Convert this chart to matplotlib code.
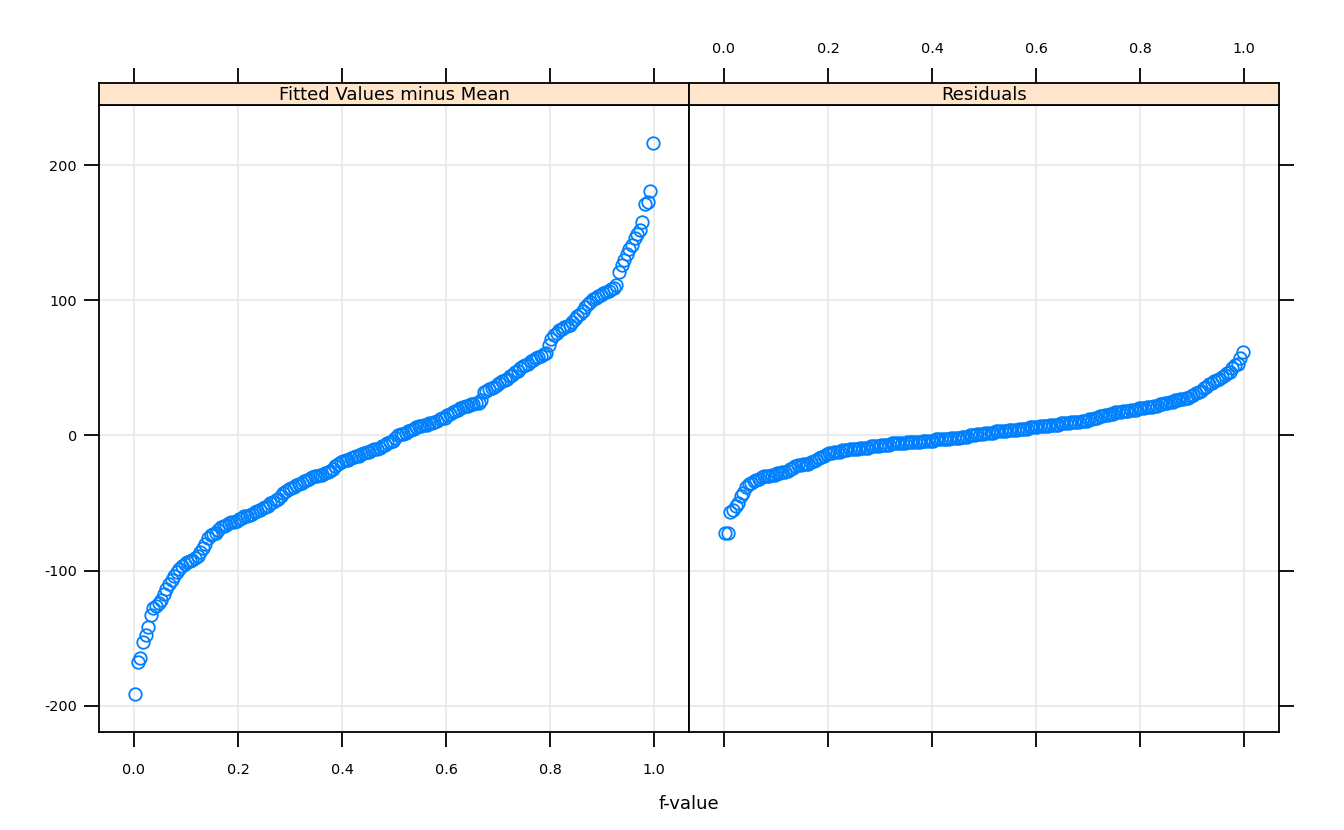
import numpy as np
import matplotlib
matplotlib.use("Agg")
import matplotlib.pyplot as plt

plt.rcParams["font.family"] = "DejaVu Sans"
plt.rcParams["axes.unicode_minus"] = False

# sorted values (n = 200, f-value = (i - 0.5) / n)
fitted = [
    -191, -168, -165, -153, -148, -142, -133, -128, -126, -124,
    -122, -117, -114, -110, -107, -104, -101, -99, -97, -95,
    -94, -93, -92, -91, -89, -86, -83, -80, -76, -74,
    -73, -72, -70, -68, -67, -66, -65, -64, -64, -63,
    -62, -61, -60, -60, -59, -58, -57, -56, -55, -54,
    -53, -52, -50, -49, -48, -47, -45, -43, -41, -40,
    -39, -38, -37, -36, -35, -34, -33, -32, -31, -30,
    -30, -29, -29, -28, -27, -26, -25, -23, -21, -20,
    -19, -18, -18, -17, -16, -15, -15, -14, -13, -12,
    -12, -11, -10, -10, -9, -8, -7, -6, -5, -4,
    -2, 0, 1, 1, 2, 3, 4, 5, 6, 7,
    7, 8, 8, 9, 9, 10, 11, 12, 13, 13,
    15, 16, 17, 18, 19, 20, 21, 22, 22, 23,
    23, 24, 24, 26, 32, 33, 34, 35, 36, 37,
    39, 40, 41, 42, 44, 45, 47, 48, 50, 51,
    52, 53, 55, 56, 57, 58, 59, 60, 61, 67,
    71, 74, 76, 78, 79, 80, 81, 82, 84, 86,
    88, 90, 92, 95, 97, 99, 101, 102, 103, 104,
    105, 106, 107, 108, 109, 111, 121, 126, 130, 134,
    138, 141, 146, 149, 152, 158, 171, 173, 181, 216,
]

residuals = [
    -72, -72, -57, -55, -52, -50, -45, -43, -38, -36,
    -35, -34, -33, -32, -31, -30, -30, -30, -29, -29,
    -28, -28, -27, -27, -26, -25, -24, -23, -22, -22,
    -21, -21, -21, -20, -19, -18, -17, -16, -15, -14,
    -13, -13, -12, -12, -12, -11, -11, -11, -10, -10,
    -10, -10, -9, -9, -9, -9, -8, -8, -8, -8,
    -7, -7, -7, -7, -6, -6, -6, -6, -6, -6,
    -5, -5, -5, -5, -5, -5, -4, -4, -4, -4,
    -4, -3, -3, -3, -3, -3, -3, -2, -2, -2,
    -2, -1, -1, -1, 0, 0, 0, 1, 1, 1,
    2, 2, 2, 2, 3, 3, 3, 3, 3, 4,
    4, 4, 4, 5, 5, 5, 5, 6, 6, 6,
    6, 7, 7, 7, 7, 8, 8, 8, 8, 9,
    9, 9, 9, 10, 10, 10, 10, 11, 11, 11,
    12, 12, 13, 13, 14, 14, 15, 15, 16, 16,
    17, 17, 17, 18, 18, 18, 19, 19, 19, 20,
    20, 20, 21, 21, 21, 22, 22, 23, 23, 24,
    24, 25, 25, 26, 26, 27, 27, 28, 28, 29,
    30, 31, 32, 33, 35, 36, 38, 39, 40, 41,
    42, 43, 45, 46, 47, 50, 52, 53, 57, 62,
]

panels = ["Fitted Values minus Mean", "Residuals"]
x_ticks = [0.0, 0.2, 0.4, 0.6, 0.8, 1.0]
y_ticks = [-200, -100, 0, 100, 200]

n = len(fitted)
fval = (np.arange(1, n + 1) - 0.5) / n

# lattice-style 7% padding
xr = fval.max() - fval.min()
xlim = (fval.min() - 0.07 * xr, fval.max() + 0.07 * xr)
allv = np.array(fitted + residuals)
yr = allv.max() - allv.min()
ylim = (allv.min() - 0.07 * yr, allv.max() + 0.07 * yr)

W, H = 1344, 830
fig = plt.figure(figsize=(W / 100, H / 100), dpi=100)

blue = "#0080ff"
strip_col = "#ffe5cc"
tick_len = 11
lw = 1.3

def fx(px):
    return px / W

def fy(py):
    return 1 - py / H

left_edges = [99, 689]
pw = 590
top, bottom, strip_top = 105, 732, 83

for k, (name, vals) in enumerate(zip(panels, [fitted, residuals])):
    x0 = left_edges[k]
    ax = fig.add_axes([fx(x0), fy(bottom), pw / W, (bottom - top) / H])
    ax.plot(fval, vals, "o", mfc="none", mec=blue, ms=9, mew=1.3, zorder=3)
    ax.set_xlim(xlim)
    ax.set_ylim(ylim)
    ax.set_xticks(x_ticks)
    ax.set_yticks(y_ticks)
    ax.grid(True, color="#e6e6e6", lw=1.1, zorder=0)
    for s in ax.spines.values():
        s.set_linewidth(lw)
    ax.tick_params(direction="out", length=tick_len, width=lw, labelsize=10.4)
    ax.tick_params(axis="x", top=False, labeltop=False, pad=11)
    ax.tick_params(axis="y", pad=5)
    if k == 0:
        ax.tick_params(axis="x", bottom=True, labelbottom=True)
        ax.tick_params(axis="y", left=True, labelleft=True, right=False)
        ax.set_xticklabels([f"{t:.1f}" for t in x_ticks])
    else:
        ax.tick_params(axis="x", bottom=True, labelbottom=False)
        ax.tick_params(axis="y", left=False, labelleft=False, right=True, labelright=False)

    # strip on top of the panel
    st = fig.add_axes([fx(x0), fy(top), pw / W, (top - strip_top) / H])
    st.set_facecolor(strip_col)
    st.set_xlim(xlim)
    st.set_yticks([])
    st.set_xticks(x_ticks)
    for s in st.spines.values():
        s.set_linewidth(lw)
    st.tick_params(axis="x", bottom=False, labelbottom=False, top=True,
                   labeltop=(k == 1), direction="out", length=tick_len,
                   width=lw, labelsize=10.4, pad=8.5)
    if k == 1:
        st.set_xticklabels([f"{t:.1f}" for t in x_ticks])
    st.text(0.5, 0.45, name, transform=st.transAxes, ha="center", va="center",
            fontsize=13)

fig.text(fx(689), fy(804), "f-value", ha="center", va="center", fontsize=13)

fig.savefig("out.png", dpi=100)
